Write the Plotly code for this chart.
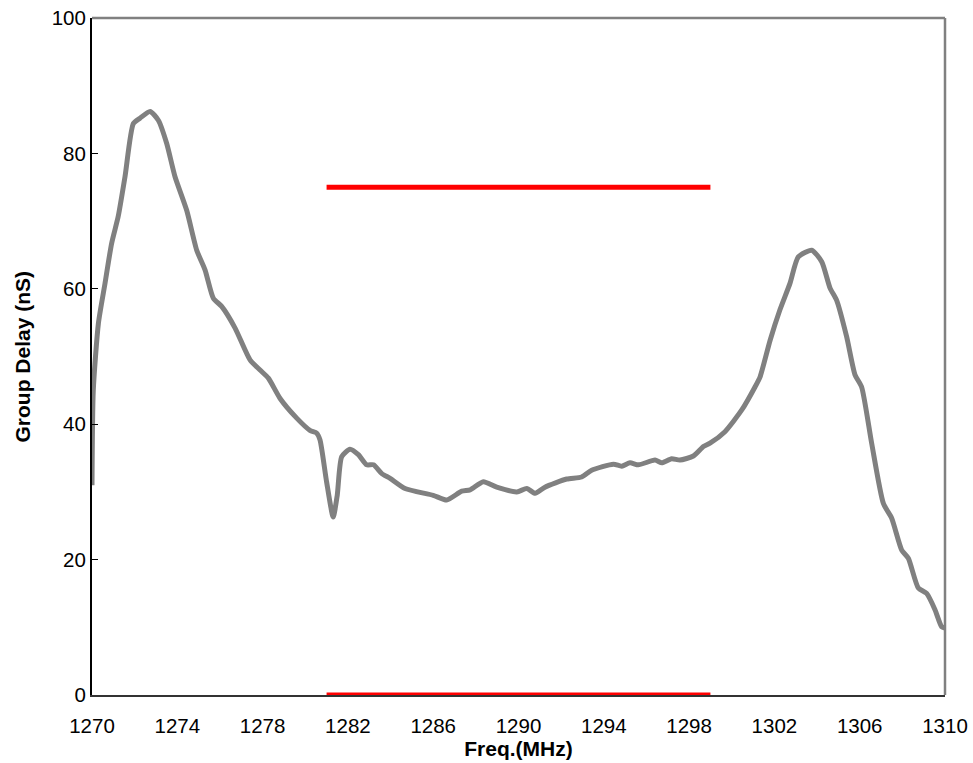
import plotly.graph_objects as go

freq = [1270.0, 1270.06, 1270.3, 1270.61, 1270.92, 1271.23, 1271.55, 1271.94, 1272.25, 1272.72,
        1273.11, 1273.5, 1273.89, 1274.44, 1274.91, 1275.3, 1275.69, 1276.08, 1276.71, 1277.41,
        1277.88, 1278.27, 1278.82, 1279.6, 1280.22, 1280.53, 1280.69, 1281.0, 1281.31, 1281.5,
        1281.71, 1282.1, 1282.49, 1282.88, 1283.2, 1283.59, 1283.98, 1284.68, 1286.0, 1286.63,
        1287.34, 1287.73, 1288.35, 1288.98, 1289.92, 1290.39, 1290.78, 1291.24, 1292.26, 1292.96,
        1293.43, 1294.45, 1294.84, 1295.23, 1295.62, 1296.4, 1296.72, 1297.18, 1297.57, 1298.2,
        1298.67, 1298.98, 1299.68, 1300.47, 1301.09, 1301.33, 1301.8, 1302.26, 1302.73, 1303.12,
        1303.75, 1304.22, 1304.61, 1304.92, 1305.39, 1305.78, 1306.09, 1306.56, 1307.11, 1307.5,
        1307.97, 1308.28, 1308.75, 1309.14, 1309.53, 1309.84, 1310.0]
delay = [31.0, 45.0, 54.9, 60.8, 66.7, 70.7, 76.6, 84.4, 85.2, 86.2,
         84.9, 81.5, 76.6, 71.6, 65.7, 62.8, 58.6, 57.4, 54.2, 49.5,
         48.0, 46.8, 43.8, 40.9, 39.1, 38.7, 37.7, 31.5, 26.3, 29.5,
         35.2, 36.3, 35.5, 34.0, 34.0, 32.7, 32.0, 30.5, 29.5, 28.8,
         30.1, 30.3, 31.5, 30.7, 30.0, 30.5, 29.8, 30.7, 31.9, 32.2,
         33.2, 34.1, 33.8, 34.3, 34.0, 34.7, 34.3, 34.9, 34.7, 35.3,
         36.7, 37.2, 38.9, 42.1, 45.5, 47.0, 52.4, 56.9, 60.8, 64.7,
         65.7, 64.0, 60.1, 58.3, 52.9, 47.3, 45.5, 37.2, 28.3, 26.1,
         21.4, 20.2, 15.8, 15.0, 12.6, 10.1, 9.9]

spec_freq = [1281, 1299]
spec_upper = [75, 75]
spec_lower = [0, 0]

x_ticks = [1270, 1274, 1278, 1282, 1286, 1290, 1294, 1298, 1302, 1306, 1310]
y_ticks = [0, 20, 40, 60, 80, 100]

fig = go.Figure()
fig.add_trace(go.Scatter(x=freq, y=delay, mode="lines",
                         line=dict(color="#808080", width=5, shape="spline", smoothing=0.6),
                         showlegend=False, hoverinfo="skip"))
fig.add_trace(go.Scatter(x=spec_freq, y=spec_upper, mode="lines",
                         line=dict(color="#ff0000", width=5), showlegend=False))
fig.add_trace(go.Scatter(x=spec_freq, y=spec_lower, mode="lines",
                         line=dict(color="#ff0000", width=5), showlegend=False))

font = "Liberation Sans, Arial, sans-serif"
fig.update_layout(
    width=973, height=763,
    margin=dict(l=92, r=28, t=18, b=68),
    paper_bgcolor="white", plot_bgcolor="white",
    font=dict(family=font, size=20, color="black"),
    shapes=[dict(type="line", xref="paper", yref="paper", x0=0, y0=1, x1=1, y1=1,
                 line=dict(color="#808080", width=2.5)),
            dict(type="line", xref="paper", yref="paper", x0=1, y0=0, x1=1, y1=1,
                 line=dict(color="#808080", width=2.5))],
    annotations=[dict(text="<b>Group Delay (nS)</b>", xref="paper", yref="paper",
                      x=-70 / 853, y=0.5, xanchor="center", yanchor="middle",
                      textangle=-90, showarrow=False,
                      font=dict(size=21, family=font, color="black"))],
)
fig.update_xaxes(range=[1270, 1310], tickvals=x_ticks, ticks="outside", ticklen=11,
                 tickcolor="rgba(0,0,0,0)", showgrid=False, zeroline=False, automargin=False,
                 showline=True, linecolor="#333333", linewidth=2,
                 tickfont=dict(size=20.5, family=font),
                 title=dict(text="<b>Freq.(MHz)</b>", font=dict(size=21, family=font), standoff=4))
fig.update_yaxes(range=[0, 100], tickvals=y_ticks, ticks="inside", ticklen=6, tickcolor="black",
                 showgrid=False, zeroline=False, showline=True, linecolor="black", linewidth=2,
                 automargin=False,
                 tickfont=dict(size=20.5, family=font))

fig.write_html("out.html", config={"displayModeBar": False},
               post_script="document.body.style.margin='0';document.body.style.overflow='hidden';")
